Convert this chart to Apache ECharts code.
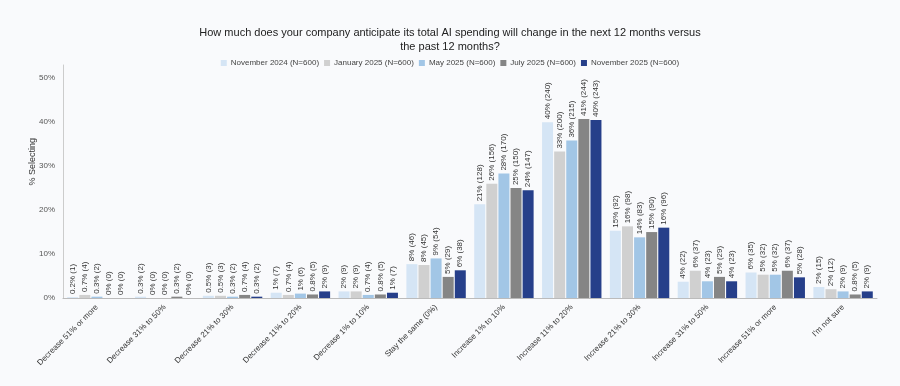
<!DOCTYPE html>
<html>
<head>
<meta charset="utf-8">
<script src="https://cdn.jsdelivr.net/npm/echarts@6/dist/echarts.min.js"></script>
<style>
html,body{margin:0;padding:0;background:#f9fafc;}
#c{width:900px;height:386px;}
</style>
</head>
<body>
<div id="c"></div>
<script>
var categories = ["Decrease 51% or more","Decrease 31% to 50%","Decrease 21% to 30%","Decrease 11% to 20%","Decrease 1% to 10%","Stay the same (0%)","Increase 1% to 10%","Increase 11% to 20%","Increase 21% to 30%","Increase 31% to 50%","Increase 51% or more","I'm not sure"];
var seriesNames = ["November 2024 (N=600)","January 2025 (N=600)","May 2025 (N=600)","July 2025 (N=600)","November 2025 (N=600)"];
var nov2024 = [0.2,0.3,0.5,1.2,1.5,7.7,21.3,40.0,15.3,3.7,5.8,2.5];
var jan2025 = [0.7,0,0.5,0.7,1.5,7.5,26.0,33.3,16.3,6.2,5.3,2.0];
var may2025 = [0.3,0,0.3,1.0,0.7,9.0,28.3,35.8,13.8,3.8,5.3,1.5];
var jul2025 = [0,0.3,0.7,0.8,0.8,4.8,25.0,40.7,15.0,4.8,6.2,0.8];
var nov2025 = [0,0,0.3,1.5,1.2,6.3,24.5,40.5,16.0,3.8,4.7,1.5];
var nov2024N = [1,2,3,7,9,46,128,240,92,22,35,15];
var jan2025N = [4,0,3,4,9,45,156,200,98,37,32,12];
var may2025N = [2,0,2,6,4,54,170,215,83,23,32,9];
var jul2025N = [0,2,4,5,5,29,150,244,90,29,37,5];
var nov2025N = [0,0,2,9,7,38,147,243,96,23,28,9];
var yTicks = [0,10,20,30,40,50];
var colors = ["#d5e5f5","#d0d0d0","#a2c6e6","#858585","#263f8a"];

var values = [nov2024,jan2025,may2025,jul2025,nov2025];
var counts = [nov2024N,jan2025N,may2025N,jul2025N,nov2025N];
var FONT = 'Liberation Sans, Arial, sans-serif';

function roundHalfEven(v){
  var f = Math.floor(v), d = v - f;
  if (Math.abs(d - 0.5) < 1e-9) return (f % 2 === 0) ? f : f + 1;
  return Math.round(v);
}
function fmtPct(v){
  if (v === 0) return "0%";
  if (v < 1) return v.toFixed(1) + "%";
  return roundHalfEven(v) + "%";
}

var chart = echarts.init(document.getElementById('c'), null, {renderer:'canvas'});
var series = values.map(function(arr, si){
  return {
    name: seriesNames[si],
    type: 'bar',
    data: arr,
    barWidth: 11,
    barGap: '10%',
    itemStyle: {color: colors[si]},
    label: {
      show: true,
      position: 'top',
      rotate: 90,
      align: 'left',
      verticalAlign: 'middle',
      distance: 3,
      fontSize: 8,
      fontFamily: FONT,
      color: '#333',
      formatter: function(p){ return fmtPct(p.value) + " (" + counts[si][p.dataIndex] + ")"; }
    }
  };
});

chart.setOption({
  backgroundColor: '#f9fafc',
  animation: false,
  color: colors,
  textStyle: {fontFamily: FONT},
  title: [{
    text: 'How much does your company anticipate its total AI spending will change in the next 12 months versus',
    left: 'center',
    top: 22,
    textStyle: {fontSize: 11, fontWeight: 'normal', color: '#222', fontFamily: FONT}
  },{
    text: 'the past 12 months?',
    left: 'center',
    top: 36,
    textStyle: {fontSize: 11, fontWeight: 'normal', color: '#222', fontFamily: FONT}
  }],
  legend: {
    top: 54,
    left: 'center',
    itemWidth: 6,
    itemHeight: 6,
    itemGap: 5,
    icon: 'rect',
    textStyle: {fontSize: 8, color: '#444', fontFamily: FONT, padding: [0,0,0,-1]},
    data: seriesNames
  },
  grid: {left: 63, right: 23, top: 65, bottom: 88, containLabel: false},
  xAxis: {
    type: 'category',
    data: categories,
    axisLine: {lineStyle: {color: '#bbb'}},
    axisTick: {show: false},
    axisLabel: {rotate: 45, fontSize: 8, color: '#333', interval: 0, margin: 8}
  },
  yAxis: {
    type: 'value',
    min: 0,
    max: 53,
    interval: 10,
    axisLine: {show: true, lineStyle: {color: '#ccc'}},
    axisTick: {show: false},
    splitLine: {show: false},
    axisLabel: {
      fontSize: 8, color: '#555', margin: 8,
      formatter: function(v){ return yTicks.indexOf(v) >= 0 ? v + '%' : ''; }
    }
  },
  graphic: [{
    type: 'text',
    left: 28,
    top: 138,
    rotation: Math.PI/2,
    style: {text: '% Selecting', fontSize: 9, fill: '#333', fontFamily: FONT}
  }],
  series: series
});
</script>
</body>
</html>
